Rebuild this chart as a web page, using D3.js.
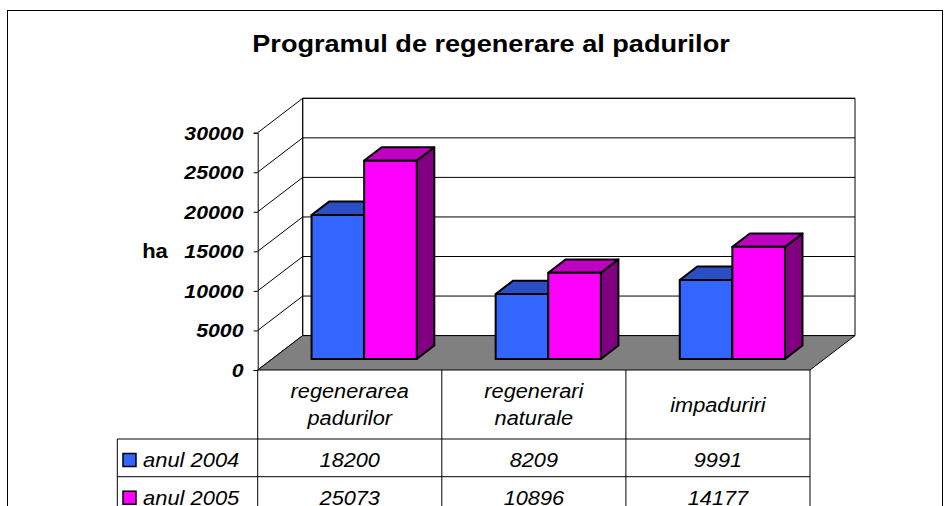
<!DOCTYPE html>
<html>
<head>
<meta charset="utf-8">
<script src="https://cdn.jsdelivr.net/npm/d3@7"></script>
<style>
  body { margin: 0; background: #fff; }
  svg { display: block; font-family: "Liberation Sans", Arial, sans-serif; }
</style>
</head>
<body>
<script>
// data
const categories = ['regenerarea padurilor', 'regenerari naturale', 'impaduriri'];
const categoryLines = [['regenerarea', 'padurilor'], ['regenerari', 'naturale'], ['impaduriri']];
const series = ['anul 2004', 'anul 2005'];
const values2004 = [18200, 8209, 9991];
const values2005 = [25073, 10896, 14177];
const yTicks = [0, 5000, 10000, 15000, 20000, 25000, 30000];

const width = 952;
const height = 506;

// front plane of the 3d box and its depth offset
const plot = { left: 257.7, right: 810, top: 132.7, bottom: 370 };
const depth = { dx: 45, dy: -34.4 };
const barFront = 0.32;   // where bars start, as part of the depth
const barDepth = 0.39;

const colors = {
  front: ['#3366FF', '#FF00FF'],
  top: ['#2A4FC4', '#C000C0'],
  side: ['#1F3A99', '#800080'],
  floor: '#808080'
};

const svg = d3.select('body').append('svg')
  .attr('width', width)
  .attr('height', height);

// outer chart border
svg.append('rect')
  .attr('x', 7.5).attr('y', 10.5)
  .attr('width', 935).attr('height', 540)
  .attr('fill', 'none')
  .attr('stroke', '#000');

function stext(x, y, txt, sx) {
  return svg.append('text')
    .attr('transform', `translate(${x},${y}) scale(${sx},1)`)
    .text(txt);
}

stext(491, 52, 'Programul de regenerare al padurilor', 1.13)
  .attr('text-anchor', 'middle')
  .attr('font-size', 24)
  .attr('font-weight', 'bold');

const yScale = d3.scaleLinear()
  .domain([0, 30000])
  .range([plot.bottom, plot.top]);

const xScale = d3.scaleBand()
  .domain(categories)
  .range([plot.left, plot.right]);

const xInner = d3.scaleBand()
  .domain(series)
  .range([0, xScale.bandwidth()])
  .paddingOuter(0.75);

const pt = (x, y) => `${x},${y}`;
const back = (x, y, f) => [x + depth.dx * f, y + depth.dy * f];

// back wall
const yMax = yScale(30000);
svg.append('polygon')
  .attr('points', [
    pt(...back(plot.left, yMax, 1)), pt(...back(plot.right, yMax, 1)),
    pt(...back(plot.right, plot.bottom, 1)), pt(...back(plot.left, plot.bottom, 1))
  ].join(' '))
  .attr('fill', '#fff')
  .attr('stroke', '#000');

// gridlines on back wall and side wall
yTicks.forEach((t) => {
  const y = yScale(t);
  const [bx, by] = back(plot.left, y, 1);
  svg.append('line')
    .attr('x1', bx).attr('y1', by)
    .attr('x2', back(plot.right, y, 1)[0]).attr('y2', by)
    .attr('stroke', '#000');
  svg.append('line')
    .attr('x1', plot.left).attr('y1', y)
    .attr('x2', bx).attr('y2', by)
    .attr('stroke', '#000');
});

// side wall back edge
svg.append('line')
  .attr('x1', back(plot.left, 0, 1)[0]).attr('y1', back(0, yMax, 1)[1])
  .attr('x2', back(plot.left, 0, 1)[0]).attr('y2', back(0, plot.bottom, 1)[1])
  .attr('stroke', '#000');

// floor
svg.append('polygon')
  .attr('points', [
    pt(plot.left, plot.bottom), pt(plot.right, plot.bottom),
    pt(...back(plot.right, plot.bottom, 1)), pt(...back(plot.left, plot.bottom, 1))
  ].join(' '))
  .attr('fill', colors.floor)
  .attr('stroke', '#000');

// value axis
const yAxis = d3.axisLeft(yScale)
  .tickValues(yTicks)
  .tickSize(4)
  .tickFormat(d3.format('d'));

const axisG = svg.append('g')
  .attr('transform', `translate(${plot.left},0)`)
  .call(yAxis);
axisG.select('.domain').attr('stroke', '#000');
axisG.selectAll('.tick line').attr('stroke', '#000');
axisG.selectAll('.tick text').remove();

yTicks.forEach((t) => {
  stext(243.5, yScale(t) + 7, String(t), 1.15)
    .attr('text-anchor', 'end')
    .attr('font-size', 18.5)
    .attr('font-weight', 'bold')
    .attr('font-style', 'italic');
});

stext(155, yScale(15000) + 7, 'ha', 1.1)
  .attr('text-anchor', 'middle')
  .attr('font-size', 20)
  .attr('font-weight', 'bold');

// 3d bars
const seriesValues = [values2004, values2005];
categories.forEach((c, i) => {
  series.forEach((s, k) => {
    const v = seriesValues[k][i];
    const [x0, y0] = back(xScale(c) + xInner(s), plot.bottom, barFront);
    const x1 = x0 + xInner.bandwidth();
    const yt = y0 - (plot.bottom - yScale(v));
    const ox = depth.dx * barDepth;
    const oy = depth.dy * barDepth;
    const g = svg.append('g')
      .attr('stroke', '#000')
      .attr('stroke-width', 2)
      .attr('stroke-linejoin', 'round');
    g.append('polygon')
      .attr('points', [pt(x1, y0), pt(x1 + ox, y0 + oy), pt(x1 + ox, yt + oy), pt(x1, yt)].join(' '))
      .attr('fill', colors.side[k]);
    g.append('polygon')
      .attr('points', [pt(x0, yt), pt(x1, yt), pt(x1 + ox, yt + oy), pt(x0 + ox, yt + oy)].join(' '))
      .attr('fill', colors.top[k]);
    g.append('rect')
      .attr('x', x0).attr('y', yt)
      .attr('width', x1 - x0).attr('height', y0 - yt)
      .attr('fill', colors.front[k]);
  });
});

// data table
const rowTop = 439;
const rowH = 37.7;
const tableLeft = 117.3;
const tableBottom = 560;

svg.append('line')
  .attr('x1', plot.left).attr('y1', plot.bottom)
  .attr('x2', plot.left).attr('y2', tableBottom)
  .attr('stroke', '#000');
categories.forEach((c) => {
  svg.append('line')
    .attr('x1', xScale(c) + xScale.bandwidth()).attr('y1', plot.bottom)
    .attr('x2', xScale(c) + xScale.bandwidth()).attr('y2', tableBottom)
    .attr('stroke', '#000');
});
[0, 1, 2].forEach((r) => {
  svg.append('line')
    .attr('x1', tableLeft).attr('y1', rowTop + r * rowH)
    .attr('x2', plot.right).attr('y2', rowTop + r * rowH)
    .attr('stroke', '#000');
});
svg.append('line')
  .attr('x1', tableLeft).attr('y1', rowTop)
  .attr('x2', tableLeft).attr('y2', tableBottom)
  .attr('stroke', '#000');

categories.forEach((c, i) => {
  const cx = xScale(c) + xScale.bandwidth() / 2;
  const lines = categoryLines[i];
  const y0 = lines.length === 2 ? 398 : 412;
  lines.forEach((l, j) => {
    stext(cx, y0 + j * 27, l, 1.06)
      .attr('text-anchor', 'middle')
      .attr('font-size', 20.5)
      .attr('font-style', 'italic');
  });
});

series.forEach((s, k) => {
  const base = rowTop + k * rowH + 28;
  svg.append('rect')
    .attr('x', 123).attr('y', base - 13.5)
    .attr('width', 13).attr('height', 13)
    .attr('fill', colors.front[k])
    .attr('stroke', '#000')
    .attr('stroke-width', 1.5);
  stext(143, base, s, 1.07)
    .attr('font-size', 20.5)
    .attr('font-style', 'italic');
  categories.forEach((c, i) => {
    stext(xScale(c) + xScale.bandwidth() / 2, base, String(seriesValues[k][i]), 1.06)
      .attr('text-anchor', 'middle')
      .attr('font-size', 20.5)
      .attr('font-style', 'italic');
  });
});
</script>
</body>
</html>
